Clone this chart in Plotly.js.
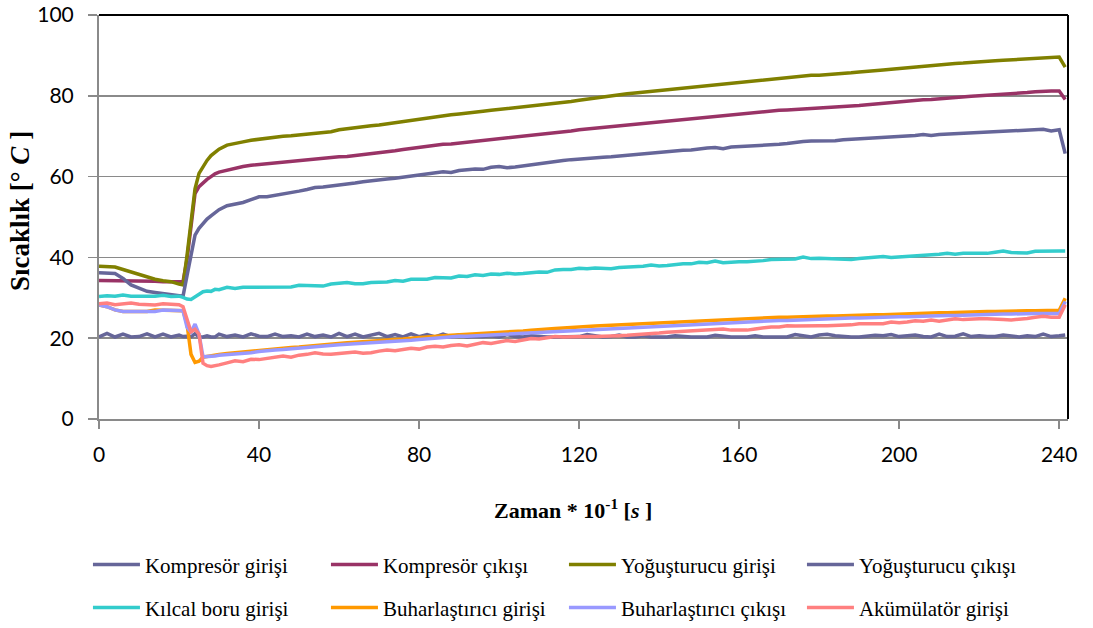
<!DOCTYPE html>
<html>
<head>
<meta charset="utf-8">
<script src="https://cdn.plot.ly/plotly-3.0.1.min.js"></script>
<style>html,body{margin:0;padding:0;background:#fff;}#chart{width:1093px;height:628px;}</style>
</head>
<body>
<div id="chart"></div>
<script>
// time (Zaman * 10^-1 s)
const time = [0,2,4,6,8,10,12,14,16,18,20,
  21,22,23,24,25,26,27,28,29,30,
  32,34,36,38,40,
  42,44,46,48,50,52,54,56,58,60,
  62,64,66,68,70,72,74,76,78,80,
  82,84,86,88,90,92,94,96,98,100,
  102,104,106,108,110,112,114,116,118,120,
  122,124,126,128,130,132,134,136,138,140,
  142,144,146,148,150,152,154,156,158,160,
  162,164,166,168,170,172,174,176,178,180,
  182,184,186,188,190,192,194,196,198,200,
  202,204,206,208,210,212,214,216,218,220,
  222,224,226,228,230,232,234,236,238,240,
  241.5];

const seriesNames = ["Kompresör girişi","Kompresör çıkışı","Yoğuşturucu girişi","Yoğuşturucu çıkışı",
  "Kılcal boru girişi","Buharlaştırıcı girişi","Buharlaştırıcı çıkışı","Akümülatör girişi"];
const seriesColors = ["#666699","#993366","#808000","#666699","#33CCCC","#FF9900","#9999FF","#FF8080"];

const kompresorGirisi = [20.3,21.2,20.3,21.0,20.3,20.4,21.1,20.3,21.0,20.3,20.8,
  20.4,20.5,20.4,21.1,20.3,20.3,20.6,20.3,20.3,21.0,
  20.4,20.8,20.3,21.1,20.5,
  20.4,21.0,20.4,20.6,20.3,21.0,20.4,20.8,20.3,21.2,
  20.4,21.0,20.3,20.8,21.2,20.4,20.9,20.3,21.1,20.4,
  20.9,20.3,21.0,20.4,20.8,20.3,20.5,20.4,20.6,20.3,
  20.9,20.4,20.3,20.6,20.4,20.3,20.3,20.4,20.3,20.4,
  20.9,20.5,20.3,20.4,20.8,20.3,20.3,20.6,20.3,20.3,
  20.3,20.6,20.4,20.3,20.3,20.3,20.7,20.4,20.3,20.3,
  20.3,20.6,20.3,20.3,20.4,20.3,20.9,20.5,20.3,20.8,
  21.0,20.6,20.4,20.3,20.3,20.6,20.7,20.6,20.9,20.4,
  20.5,20.8,20.4,20.3,21.0,20.4,20.5,21.1,20.4,20.6,
  20.4,20.4,20.8,20.6,20.3,20.6,20.4,21.0,20.4,20.6,
  20.8];

const kompresorCikisi = [34.3,34.3,34.2,34.2,34.2,34.2,34.1,34.1,34.0,34.0,34.0,
  34.0,39.5,48.5,55.8,57.5,58.5,59.3,60.0,60.7,61.1,
  61.6,62.1,62.5,62.8,63.0,
  63.2,63.4,63.6,63.8,64.1,64.2,64.5,64.6,64.7,64.9,
  65.0,65.2,65.4,65.6,65.9,66.1,66.4,66.7,67.0,67.2,
  67.4,67.7,68.0,68.1,68.3,68.5,68.8,69.0,69.2,69.4,
  69.6,69.8,70.0,70.2,70.4,70.6,70.9,71.1,71.3,71.6,
  71.8,71.9,72.1,72.3,72.5,72.6,72.8,73.1,73.3,73.5,
  73.7,73.9,74.1,74.3,74.5,74.7,74.9,75.1,75.3,75.5,
  75.7,75.9,76.0,76.2,76.4,76.5,76.6,76.8,76.9,77.1,
  77.1,77.2,77.3,77.4,77.6,77.8,78.0,78.1,78.3,78.5,
  78.6,78.8,79.0,79.1,79.3,79.5,79.7,79.8,79.9,80.0,
  80.1,80.2,80.4,80.5,80.7,80.8,81.0,81.2,81.2,81.2,
  79.1];

const yogusturucuGirisi = [37.8,37.8,37.6,37.0,36.4,35.8,35.0,34.6,34.2,34.0,33.4,
  33.2,40.5,48.0,57.0,60.8,62.6,64.0,65.2,66.1,66.8,
  67.8,68.3,68.6,69.0,69.3,
  69.6,69.8,70.0,70.1,70.3,70.5,70.6,70.8,71.1,71.6,
  71.9,72.0,72.3,72.6,72.8,73.1,73.4,73.7,74.0,74.3,
  74.5,74.8,75.0,75.3,75.5,75.8,76.0,76.2,76.4,76.6,
  76.8,77.0,77.3,77.6,77.8,78.0,78.2,78.4,78.6,78.9,
  79.2,79.5,79.8,80.1,80.3,80.5,80.7,80.9,81.1,81.4,
  81.6,81.8,82.0,82.2,82.4,82.6,82.8,83.0,83.2,83.4,
  83.6,83.8,84.0,84.1,84.3,84.5,84.7,84.9,85.1,85.1,
  85.2,85.3,85.5,85.7,85.9,86.0,86.2,86.4,86.6,86.8,
  87.0,87.2,87.3,87.5,87.7,87.9,88.0,88.1,88.3,88.5,
  88.6,88.7,88.8,88.9,89.0,89.1,89.2,89.5,89.6,89.6,
  87.1];

const yogusturucuCikisi = [36.2,36.2,36.0,34.8,33.2,32.4,31.6,31.3,31.0,30.8,30.5,
  30.4,35.5,41.0,45.5,47.2,48.5,49.5,50.3,51.1,51.8,
  52.8,53.2,53.6,54.3,55.0,
  55.0,55.3,55.6,56.0,56.4,56.8,57.3,57.4,57.6,58.0,
  58.2,58.4,58.7,59.0,59.2,59.4,59.6,59.9,60.1,60.4,
  60.6,60.9,61.2,61.0,61.5,61.7,61.9,61.8,62.3,62.5,
  62.2,62.4,62.7,62.9,63.1,63.4,63.8,64.0,64.2,64.4,
  64.5,64.6,64.8,64.9,65.1,65.3,65.5,65.7,65.9,66.1,
  66.2,66.3,66.5,66.6,66.9,67.1,67.2,66.9,67.3,67.4,
  67.4,67.5,67.7,67.9,68.0,68.2,68.5,68.7,68.8,68.8,
  68.8,68.9,69.1,69.2,69.3,69.4,69.5,69.6,69.7,69.9,
  70.0,70.2,70.4,70.2,70.4,70.5,70.5,70.6,70.8,71.0,
  71.1,71.2,71.2,71.3,71.3,71.4,71.7,71.7,71.3,71.6,
  65.7];

const kilcalBoruGirisi = [30.3,30.5,30.4,30.7,30.4,30.5,30.4,30.4,30.6,30.3,30.4,
  30.1,29.7,29.6,30.2,31.0,31.5,31.7,31.6,32.1,32.0,
  32.6,32.3,32.6,32.6,32.7,
  32.7,32.7,32.7,32.7,33.1,33.1,33.1,32.9,33.4,33.6,
  33.8,33.5,33.5,33.8,33.9,33.9,34.3,34.1,34.6,34.5,
  34.6,35.0,35.0,34.9,35.4,35.3,35.7,35.5,35.9,35.8,
  36.1,35.9,36.0,36.3,36.4,36.3,36.9,37.0,37.0,37.3,
  37.2,37.4,37.2,37.2,37.5,37.6,37.6,37.8,38.1,37.9,
  38.0,38.3,38.4,38.4,38.8,38.7,39.1,38.7,38.9,38.9,
  38.9,39.0,39.2,39.5,39.5,39.4,39.6,40.1,39.7,39.8,
  39.7,39.5,39.4,39.5,39.7,39.9,39.9,40.2,40.0,40.1,
  40.3,40.5,40.4,40.6,40.8,41.0,40.8,41.0,41.0,40.8,
  41.0,41.3,41.6,41.2,41.1,41.1,41.5,41.6,41.6,41.6,
  41.6];

const buharlastiriciGirisi = [28.2,27.8,27.0,26.6,26.6,26.6,26.6,27.0,27.0,27.0,27.0,
  26.8,23.5,16.0,14.0,14.3,15.3,15.5,15.7,15.8,16.0,
  16.2,16.4,16.6,16.8,17.1,
  17.2,17.4,17.6,17.7,17.8,18.0,18.3,18.4,18.6,18.9,
  18.9,19.0,19.1,19.2,19.4,19.5,19.7,19.8,20.0,20.2,
  20.3,20.5,20.6,20.7,20.8,20.9,21.0,21.2,21.3,21.5,
  21.6,21.7,21.8,22.0,22.2,22.3,22.4,22.5,22.7,22.8,
  22.9,23.0,23.1,23.2,23.3,23.4,23.5,23.6,23.7,23.8,
  23.9,24.0,24.1,24.2,24.3,24.4,24.6,24.6,24.7,24.8,
  24.9,25.0,25.0,25.1,25.2,25.2,25.3,25.3,25.4,25.4,
  25.5,25.5,25.6,25.6,25.7,25.7,25.8,25.8,25.9,25.9,
  26.0,26.0,26.1,26.2,26.3,26.3,26.4,26.4,26.5,26.5,
  26.6,26.6,26.7,26.7,26.8,26.8,26.8,26.9,26.9,26.9,
  29.9];

const buharlastiriciCikisi = [28.2,27.8,27.0,26.6,26.6,26.6,26.6,26.6,27.0,27.0,27.0,
  26.8,22.7,21.5,23.5,21.0,15.4,15.4,15.5,15.6,15.8,
  15.9,16.1,16.3,16.4,16.7,
  17.0,17.1,17.2,17.4,17.5,17.7,17.8,18.0,18.2,18.4,
  18.5,18.6,18.7,18.8,18.9,19.0,19.1,19.3,19.5,19.7,
  19.9,20.1,20.3,20.4,20.5,20.5,20.6,20.8,20.9,21.1,
  21.2,21.3,21.4,21.5,21.6,21.7,21.7,21.8,21.8,21.9,
  22.0,22.1,22.2,22.3,22.4,22.5,22.6,22.7,22.8,22.9,
  23.0,23.1,23.2,23.3,23.4,23.5,23.7,23.8,23.9,24.0,
  24.0,24.1,24.2,24.3,24.4,24.4,24.5,24.6,24.7,24.8,
  24.8,24.9,24.9,25.0,25.0,25.1,25.1,25.2,25.2,25.3,
  25.3,25.4,25.4,25.5,25.5,25.6,25.6,25.7,25.8,25.8,
  25.9,25.9,26.0,26.0,26.1,26.1,26.1,26.1,26.1,26.1,
  29.1];

const akumulatorGirisi = [28.5,28.7,28.3,28.6,28.7,28.4,28.4,28.2,28.5,28.3,28.3,
  27.8,24.5,21.6,22.2,21.0,13.8,13.2,13.0,13.1,13.4,
  13.9,14.4,14.2,14.8,14.7,
  15.0,15.3,15.6,15.3,15.8,16.0,16.4,16.1,16.0,16.2,
  16.4,16.6,16.3,16.4,16.8,17.1,16.9,17.2,17.5,17.3,
  17.8,18.0,17.8,18.2,18.4,18.1,18.5,18.9,18.7,19.1,
  19.4,19.2,19.6,19.9,19.8,20.0,20.4,20.3,20.4,20.4,
  20.4,20.4,20.4,20.4,20.6,20.7,20.8,21.0,21.1,21.3,
  21.5,21.6,21.8,21.9,22.0,22.2,22.2,22.3,22.0,22.0,
  22.0,22.3,22.6,22.8,22.8,23.1,23.0,23.1,23.1,23.1,
  23.1,23.1,23.1,23.3,23.6,23.6,23.4,23.6,24.0,23.8,
  24.0,24.3,24.2,24.5,24.2,24.6,24.8,24.6,24.8,24.8,
  24.8,24.8,24.6,24.5,24.6,24.9,25.2,25.4,25.2,25.2,
  28.3];

const seriesValues = [kompresorGirisi, kompresorCikisi, yogusturucuGirisi, yogusturucuCikisi,
  kilcalBoruGirisi, buharlastiriciGirisi, buharlastiriciCikisi, akumulatorGirisi];

const xTicks = [0,40,80,120,160,200,240];
const yTicks = [0,20,40,60,80,100];

const traces = seriesValues.map((vals, i) => ({
  x: time, y: vals, type: 'scatter', mode: 'lines', name: seriesNames[i],
  line: {color: seriesColors[i], width: 3.5},
  legend: i < 4 ? 'legend' : 'legend2'
}));

const legendFont = {family: 'Liberation Serif, Times New Roman, serif', size: 21, color: '#000'};
const gridCol = '#8a8a8a';

const layout = {
  width: 1093, height: 628,
  margin: {l: 99, r: 25, t: 15, b: 209, autoexpand: false},
  paper_bgcolor: '#fff', plot_bgcolor: '#fff',
  showlegend: true,
  xaxis: {
    range: [0, 242.2], tickvals: xTicks, ticktext: xTicks.map(String),
    showgrid: false, zeroline: false, showline: true, linecolor: gridCol, linewidth: 2,
    ticks: 'outside', ticklen: 8, tickwidth: 1.5, tickcolor: gridCol,
    ticklabelstandoff: 8,
    tickfont: {family: 'Lato, Open Sans, sans-serif', size: 21, color: '#000'}
  },
  yaxis: {
    range: [0, 100], tickvals: yTicks, ticktext: yTicks.map(String),
    showgrid: true, gridcolor: gridCol, gridwidth: 1.6, zeroline: false,
    showline: true, linecolor: gridCol, linewidth: 2,
    ticks: 'outside', ticklen: 9, tickwidth: 1.5, tickcolor: gridCol,
    ticklabelstandoff: 10,
    tickfont: {family: 'Lato, Open Sans, sans-serif', size: 21, color: '#000'}
  },
  legend: {orientation: 'h', x: -0.0114, xanchor: 'left', y: -0.361, yanchor: 'middle',
    font: legendFont, entrywidth: 176, itemwidth: 47, bgcolor: 'rgba(0,0,0,0)', borderwidth: 0},
  legend2: {orientation: 'h', x: -0.0114, xanchor: 'left', y: -0.4675, yanchor: 'middle',
    font: legendFont, entrywidth: 176, itemwidth: 47, bgcolor: 'rgba(0,0,0,0)', borderwidth: 0},
  shapes: [
    {type: 'line', xref: 'paper', yref: 'paper', x0: 0, x1: 1, y0: 1, y1: 1, line: {color: '#000', width: 2}},
    {type: 'line', xref: 'paper', yref: 'paper', x0: 1, x1: 1, y0: 0, y1: 1, line: {color: '#000', width: 2}}
  ],
  annotations: [
    {text: '<b>Zaman * 10<sup>-1</sup> [<i>s</i> ]</b>', xref: 'paper', yref: 'paper',
      x: 0.489, y: -0.2228, xanchor: 'center', yanchor: 'middle', showarrow: false,
      font: {family: 'Liberation Serif, Times New Roman, serif', size: 22, color: '#000'}},
    {text: '<b>Sıcaklık [° <i>C</i> ]</b>', xref: 'paper', yref: 'paper', textangle: -90,
      x: -0.0815, y: 0.515, xanchor: 'center', yanchor: 'middle', showarrow: false,
      font: {family: 'Liberation Serif, Times New Roman, serif', size: 27, color: '#000'}}
  ]
};

Plotly.newPlot('chart', traces, layout, {displayModeBar: false, staticPlot: true});
</script>
</body>
</html>
